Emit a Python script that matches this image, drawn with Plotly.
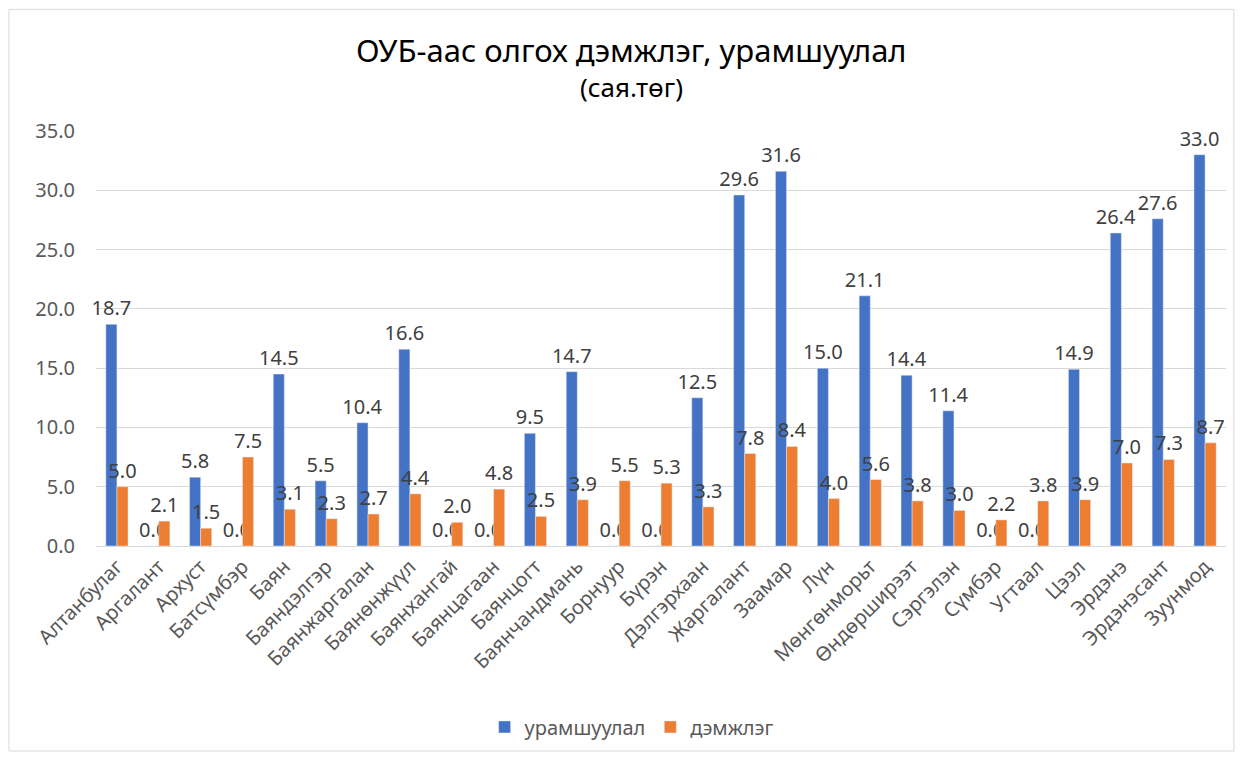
import plotly.graph_objects as go

categories = ["Алтанбулаг", "Аргалант", "Архуст", "Батсүмбэр", "Баян", "Баяндэлгэр",
              "Баянжаргалан", "Баянөнжүүл", "Баянхангай", "Баянцагаан", "Баянцогт",
              "Баянчандмань", "Борнуур", "Бүрэн", "Дэлгэрхаан", "Жаргалант", "Заамар",
              "Лүн", "Мөнгөнморьт", "Өндөрширээт", "Сэргэлэн", "Сүмбэр", "Угтаал",
              "Цээл", "Эрдэнэ", "Эрдэнэсант", "Зуунмод"]
uramshuulal = [18.7, 0.0, 5.8, 0.0, 14.5, 5.5, 10.4, 16.6, 0.0, 0.0, 9.5, 14.7, 0.0, 0.0,
               12.5, 29.6, 31.6, 15.0, 21.1, 14.4, 11.4, 0.0, 0.0, 14.9, 26.4, 27.6, 33.0]
demjleg = [5.0, 2.1, 1.5, 7.5, 3.1, 2.3, 2.7, 4.4, 2.0, 4.8, 2.5, 3.9, 5.5, 5.3,
           3.3, 7.8, 8.4, 4.0, 5.6, 3.8, 3.0, 2.2, 3.8, 3.9, 7.0, 7.3, 8.7]

FONT = "Noto Sans"
label_font = dict(family=FONT, size=20, color="#404040")

fig = go.Figure()
fig.add_trace(go.Bar(x=categories, y=uramshuulal, name="урамшуулал",
                     marker_color="#4472C4", text=[f"{v:.1f}" for v in uramshuulal],
                     textposition="outside", textfont=label_font, cliponaxis=False,
                     constraintext="none"))
fig.add_trace(go.Bar(x=categories, y=demjleg, name="дэмжлэг",
                     marker_color="#ED7D31", text=[f"{v:.1f}" for v in demjleg],
                     textposition="outside", textfont=label_font, cliponaxis=False,
                     constraintext="none"))

fig.update_layout(
    width=1227, height=747,
    paper_bgcolor="white", plot_bgcolor="white",
    margin=dict(l=88, r=9, t=123, b=207),
    barmode="group", bargap=0.47, bargroupgap=0,
    font=dict(family=FONT, color="#595959"),
    showlegend=True,
    legend=dict(orientation="h", x=0.474, xanchor="center", y=-0.436, yanchor="middle",
                font=dict(family=FONT, size=20, color="#595959"), traceorder="normal"),
    annotations=[
        dict(text="ОУБ-аас олгох дэмжлэг, урамшуулал", x=0.4735, y=1.194, xref="paper", yref="paper",
             showarrow=False, font=dict(family=FONT, size=31, color="#000000"), yanchor="middle"),
        dict(text="(сая.төг)", x=0.4735, y=1.105, xref="paper", yref="paper",
             showarrow=False, font=dict(family=FONT, size=26, color="#000000"), yanchor="middle"),
    ],
    shapes=[dict(type="rect", xref="paper", yref="paper", x0=-0.077, x1=1.007, y0=-0.494, y1=1.293,
                 line=dict(color="#d9d9d9", width=1))],
)
fig.update_yaxes(range=[0, 35], dtick=5, tickformat=".1f", showgrid=True, gridcolor="#d9d9d9",
                 zeroline=False, tickfont=dict(family=FONT, size=20, color="#595959"),
                 ticks="", ticklen=0, showline=False, ticklabelstandoff=20)
fig.update_xaxes(tickangle=-45, tickfont=dict(family=FONT, size=20, color="#595959"),
                 showline=True, linecolor="#d9d9d9", linewidth=1, ticks="")

fig.write_html("out.html")
